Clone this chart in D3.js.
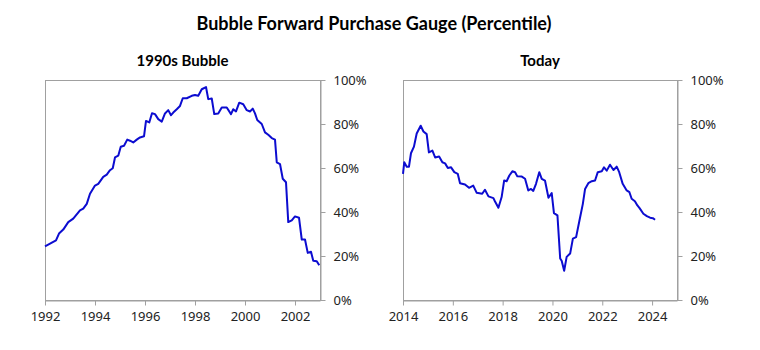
<!DOCTYPE html>
<html><head><meta charset="utf-8">
<script src="https://cdn.jsdelivr.net/npm/d3@7"></script>
<style>body{margin:0;background:#fff}</style>
</head><body><svg id="c" width="760" height="350"></svg>
<script>
const leftDates=[1992.00,1992.44,1992.56,1992.73,1992.93,1993.13,1993.40,1993.53,1993.67,1993.80,1994.00,1994.13,1994.33,1994.47,1994.60,1994.71,1994.80,1994.93,1995.03,1995.16,1995.29,1995.40,1995.53,1995.67,1995.80,1995.96,1996.04,1996.17,1996.28,1996.40,1996.53,1996.67,1996.80,1996.93,1997.04,1997.13,1997.27,1997.40,1997.51,1997.67,1997.87,1998.00,1998.13,1998.27,1998.44,1998.53,1998.67,1998.77,1998.93,1999.07,1999.27,1999.44,1999.53,1999.64,1999.77,1999.93,2000.07,2000.20,2000.31,2000.40,2000.49,2000.67,2000.80,2000.93,2001.07,2001.20,2001.27,2001.40,2001.51,2001.64,2001.73,2001.87,2002.00,2002.16,2002.27,2002.40,2002.51,2002.64,2002.73,2002.87,2002.97];
const leftValues=[24.4,27.1,30.2,32,35.4,37,40.7,41.5,43.7,48.3,52,52.8,56,57,59,59.9,64.8,65.6,69.7,70.1,72.9,72.4,71.6,72.9,73.9,74.4,81.4,80.7,84.9,84.5,82.2,81.1,84.8,86.3,84,85.2,86.7,88.2,91.7,91.7,92.8,93.2,92.8,95.8,96.8,91.3,91.6,84.5,84.8,87.5,87.5,84.5,86.7,85.7,89.7,89,86.3,85.7,87,84.8,81.8,80,76.2,75.1,73.6,72.9,62.6,61.8,55.1,53.5,35.4,36.2,38,37.4,27.5,27.5,21.4,21.9,17.8,17.6,15.8];
const rightDates=[2014.00,2014.05,2014.15,2014.24,2014.32,2014.44,2014.55,2014.71,2014.82,2014.95,2015.04,2015.18,2015.29,2015.45,2015.58,2015.69,2015.80,2015.93,2016.06,2016.20,2016.29,2016.49,2016.65,2016.82,2016.96,2017.18,2017.29,2017.43,2017.63,2017.69,2017.83,2017.96,2018.06,2018.16,2018.27,2018.39,2018.50,2018.59,2018.77,2018.90,2019.03,2019.14,2019.23,2019.34,2019.47,2019.57,2019.70,2019.84,2019.97,2020.06,2020.20,2020.31,2020.37,2020.47,2020.57,2020.71,2020.82,2020.95,2021.08,2021.22,2021.31,2021.44,2021.58,2021.71,2021.82,2021.98,2022.07,2022.18,2022.31,2022.45,2022.58,2022.68,2022.82,2022.98,2023.09,2023.18,2023.31,2023.41,2023.49,2023.65,2023.79,2023.92,2024.03,2024.12];
const rightValues=[57.3,62.6,60.6,60.6,66.7,69.7,75.7,79.2,76.6,75.4,67.1,67.9,64.8,65.2,62.6,62.1,60,60.3,58.1,57.3,53.1,52.5,51,52,48.7,48.3,50.1,47.1,46.3,44.9,41.9,46.8,54.3,54,56.6,58.5,58.1,56.2,56.1,55.1,49.8,50.5,49.6,52.8,58.1,55.1,54.3,46.5,48.6,39.5,38.5,18.9,17.8,13.3,19.6,21.1,27.9,28.6,35.9,43.7,50.5,53.1,54,54.3,58.1,58.5,60.3,58.8,61.5,59.1,60.6,58.1,52.8,49.8,49,46,44.9,43,41.9,39.2,38.1,37.4,37.2,36.5];
const leftTicks=[1992,1994,1996,1998,2000,2002];
const rightTicks=[2014,2016,2018,2020,2022,2024];
const yTicks=[0,20,40,60,80,100];
const mainTitle="Bubble Forward Purchase Gauge (Percentile)";
const panelTitles=["1990s Bubble","Today"];

const svg=d3.select("#c");
const plotTop=80,plotBottom=300;
const y=d3.scaleLinear().domain([0,100]).range([plotBottom,plotTop]);
const axisColor="#a0a0a0";
svg.append("text").attr("x",374).attr("y",30).attr("text-anchor","middle")
  .attr("font-family","Lato").attr("font-weight","bold").attr("font-size",18).attr("fill","#000").text(mainTitle);

function panel(x0,x1,domain,dates,vals,ticks,title){
  const x=d3.scaleLinear().domain(domain).range([x0,x1]);
  const g=svg.append("g");
  g.append("text").attr("x",(x0+x1)/2).attr("y",66).attr("text-anchor","middle")
   .attr("font-family","Lato").attr("font-weight","bold").attr("font-size",15).attr("fill","#000").text(title);
  g.append("rect").attr("x",x0+0.5).attr("y",plotTop+0.5).attr("width",x1-x0).attr("height",plotBottom-plotTop)
   .attr("fill","none").attr("stroke",axisColor);
  const xa=g.append("g").attr("transform",`translate(0,${plotBottom+0.5})`)
   .call(d3.axisBottom(x).tickValues(ticks).tickFormat(d3.format("d")).tickSize(5).tickSizeOuter(0).tickPadding(6));
  const ya=g.append("g").attr("transform",`translate(${x1+0.5},0)`)
   .call(d3.axisRight(y).tickValues(yTicks).tickFormat(d=>d+"%").tickSize(5).tickSizeOuter(0).tickPadding(8));
  [xa,ya].forEach(a=>{
    a.select(".domain").attr("stroke",axisColor);
    a.selectAll(".tick line").attr("stroke",axisColor);
    a.selectAll("text").attr("font-family","Noto Sans").attr("font-size",13).attr("fill","#222");
  });
  const line=d3.line().x((d,i)=>x(dates[i])).y(d=>y(d));
  g.append("path").datum(vals).attr("d",line).attr("fill","none").attr("stroke","#0c0cd0")
   .attr("stroke-width",2).attr("stroke-linejoin","round");
}
panel(45,320,[1992,2003],leftDates,leftValues,leftTicks,panelTitles[0]);
panel(403,677,[2014,2025],rightDates,rightValues,rightTicks,panelTitles[1]);
</script></body></html>
